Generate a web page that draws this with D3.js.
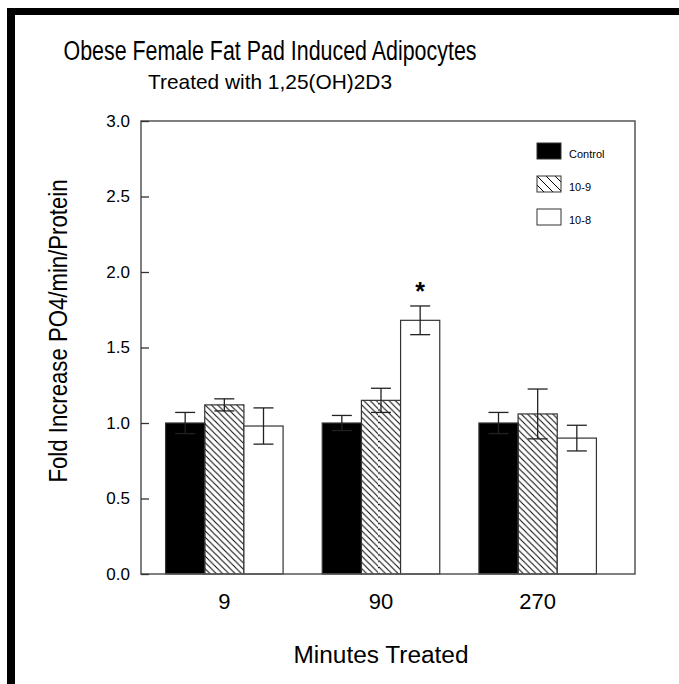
<!DOCTYPE html>
<html>
<head>
<meta charset="utf-8">
<script src="https://cdn.jsdelivr.net/npm/d3@7"></script>
<style>
  html, body { margin: 0; padding: 0; background: #fff; }
  svg text { font-family: "Liberation Sans", Arial, Helvetica, sans-serif; fill: #000; }
</style>
</head>
<body>
<div id="chart"></div>
<script>
(function() {
	var width = 679,
		height = 684;

	// data
	var groups = ["9", "90", "270"];
	var series = ["Control", "10-9", "10-8"];
	var means = [
		[1.00, 1.12, 0.98],
		[1.00, 1.15, 1.68],
		[1.00, 1.06, 0.90]
	];
	var errors = [
		[0.07, 0.04, 0.12],
		[0.05, 0.08, 0.095],
		[0.07, 0.165, 0.085]
	];
	var yTicks = [0, 0.5, 1.0, 1.5, 2.0, 2.5, 3.0];
	var starAt = ["90", "10-8"];

	var left = 141, right = 635, top = 121, bottom = 574;

	var svg = d3.select("#chart")
		.append("svg")
		.attr("width", width)
		.attr("height", height);

	// hatching for the 10-9 series
	var defs = svg.append("defs");
	defs.append("pattern")
		.attr("id", "hatch")
		.attr("patternUnits", "userSpaceOnUse")
		.attr("width", 6.3)
		.attr("height", 6.3)
		.append("path")
		.attr("d", "M-1,-1 L7.3,7.3 M-1,5.3 L1,7.3 M5.3,-1 L7.3,1")
		.attr("stroke", "#000")
		.attr("stroke-width", 1);
	defs.append("pattern")
		.attr("id", "hatchWide")
		.attr("patternUnits", "userSpaceOnUse")
		.attr("width", 9)
		.attr("height", 9)
		.append("path")
		.attr("d", "M-1,-1 L10,10 M-1,8 L1,10 M8,-1 L10,1")
		.attr("stroke", "#000")
		.attr("stroke-width", 1);

	var fills = { "Control": "#000", "10-9": "url(#hatch)", "10-8": "#fff" };
	var legendFills = { "Control": "#000", "10-9": "url(#hatchWide)", "10-8": "#fff" };

	// thick black slide border on the left and top
	svg.append("rect").attr("x", 7).attr("y", 8).attr("width", 8).attr("height", height - 8).attr("fill", "#000");
	svg.append("rect").attr("x", 7).attr("y", 8).attr("width", width - 7).attr("height", 7).attr("fill", "#000");

	var x0 = d3.scaleBand()
		.domain(groups)
		.range([146, 616])
		.paddingInner(0.25)
		.paddingOuter(0.125);

	var x1 = d3.scaleBand()
		.domain(series)
		.range([0, x0.bandwidth()]);

	var y = d3.scaleLinear().domain([0, 3]).range([bottom, top]);

	var rows = function(d, i) {
		return series.map(function(s, j) {
			return { group: d, key: s, value: means[i][j], err: errors[i][j] };
		});
	};

	// bars
	var g = svg.selectAll(".group")
		.data(groups)
		.enter().append("g")
		.attr("class", "group")
		.attr("transform", function(d) { return "translate(" + x0(d) + ",0)"; });

	g.selectAll("rect")
		.data(rows)
		.enter().append("rect")
		.attr("x", function(d) { return x1(d.key); })
		.attr("y", function(d) { return y(d.value); })
		.attr("width", x1.bandwidth())
		.attr("height", function(d) { return y(0) - y(d.value); })
		.attr("fill", function(d) { return fills[d.key]; })
		.attr("stroke", "#333")
		.attr("stroke-width", 1.2);

	// error bars
	var eb = g.selectAll(".err")
		.data(rows)
		.enter().append("g")
		.attr("class", "err")
		.attr("stroke", "#222")
		.attr("stroke-width", 1.3);

	var cx = function(d) { return x1(d.key) + x1.bandwidth() / 2; };
	eb.append("line")
		.attr("x1", cx).attr("x2", cx)
		.attr("y1", function(d) { return y(d.value + d.err); })
		.attr("y2", function(d) { return y(d.value - d.err); });
	eb.append("line")
		.attr("x1", function(d) { return cx(d) - 10; })
		.attr("x2", function(d) { return cx(d) + 10; })
		.attr("y1", function(d) { return y(d.value + d.err); })
		.attr("y2", function(d) { return y(d.value + d.err); });
	eb.append("line")
		.attr("x1", function(d) { return cx(d) - 10; })
		.attr("x2", function(d) { return cx(d) + 10; })
		.attr("y1", function(d) { return y(d.value - d.err); })
		.attr("y2", function(d) { return y(d.value - d.err); });

	// significance star
	var gi = groups.indexOf(starAt[0]), si = series.indexOf(starAt[1]);
	svg.append("text")
		.attr("x", x0(starAt[0]) + x1(starAt[1]) + x1.bandwidth() / 2)
		.attr("y", y(means[gi][si] + errors[gi][si]) - 6)
		.attr("text-anchor", "middle")
		.style("font-size", "25px")
		.style("font-weight", "bold")
		.text("*");

	// frame
	svg.append("rect")
		.attr("x", left).attr("y", top)
		.attr("width", right - left).attr("height", bottom - top)
		.attr("fill", "none")
		.attr("stroke", "#555")
		.attr("stroke-width", 1.5);

	// y axis, ticks pointing inward
	var yAxis = svg.append("g")
		.attr("transform", "translate(" + left + ",0)")
		.call(d3.axisRight(y).tickValues(yTicks).tickSize(8).tickFormat(d3.format(".1f")));
	yAxis.select(".domain").remove();
	yAxis.selectAll("line").attr("stroke", "#333").attr("stroke-width", 1.3);
	yAxis.selectAll("text")
		.attr("x", -11)
		.attr("text-anchor", "end")
		.style("font-size", "17px");

	// x axis labels
	var xAxis = svg.append("g")
		.attr("transform", "translate(0," + bottom + ")")
		.call(d3.axisBottom(x0).tickSize(0).tickPadding(19));
	xAxis.select(".domain").remove();
	xAxis.selectAll("text").style("font-size", "22px");

	// titles (narrow face in the original, so squeeze to width)
	svg.append("text")
		.attr("x", 270).attr("y", 60)
		.attr("text-anchor", "middle")
		.attr("textLength", 413)
		.attr("lengthAdjust", "spacingAndGlyphs")
		.style("font-size", "27px")
		.text("Obese Female Fat Pad Induced Adipocytes");
	svg.append("text")
		.attr("x", 270).attr("y", 89)
		.attr("text-anchor", "middle")
		.attr("textLength", 244)
		.attr("lengthAdjust", "spacingAndGlyphs")
		.style("font-size", "21px")
		.text("Treated with 1,25(OH)2D3");

	svg.append("text")
		.attr("x", 381).attr("y", 663)
		.attr("text-anchor", "middle")
		.attr("textLength", 175)
		.attr("lengthAdjust", "spacingAndGlyphs")
		.style("font-size", "23px")
		.text("Minutes Treated");

	svg.append("text")
		.attr("transform", "translate(67,331) rotate(-90)")
		.attr("text-anchor", "middle")
		.attr("textLength", 303)
		.attr("lengthAdjust", "spacingAndGlyphs")
		.style("font-size", "25px")
		.text("Fold Increase PO4/min/Protein");

	// legend
	var legend = svg.selectAll(".legend")
		.data(series)
		.enter().append("g")
		.attr("class", "legend")
		.attr("transform", function(d, i) { return "translate(537," + (143 + i * 33) + ")"; });

	legend.append("rect")
		.attr("width", 24)
		.attr("height", 16)
		.attr("fill", function(d) { return legendFills[d]; })
		.attr("stroke", "#333")
		.attr("stroke-width", 1);

	legend.append("text")
		.attr("x", 32)
		.attr("y", 15)
		.style("font-size", "11px")
		.text(function(d) { return d; });
})();
</script>
</body>
</html>
